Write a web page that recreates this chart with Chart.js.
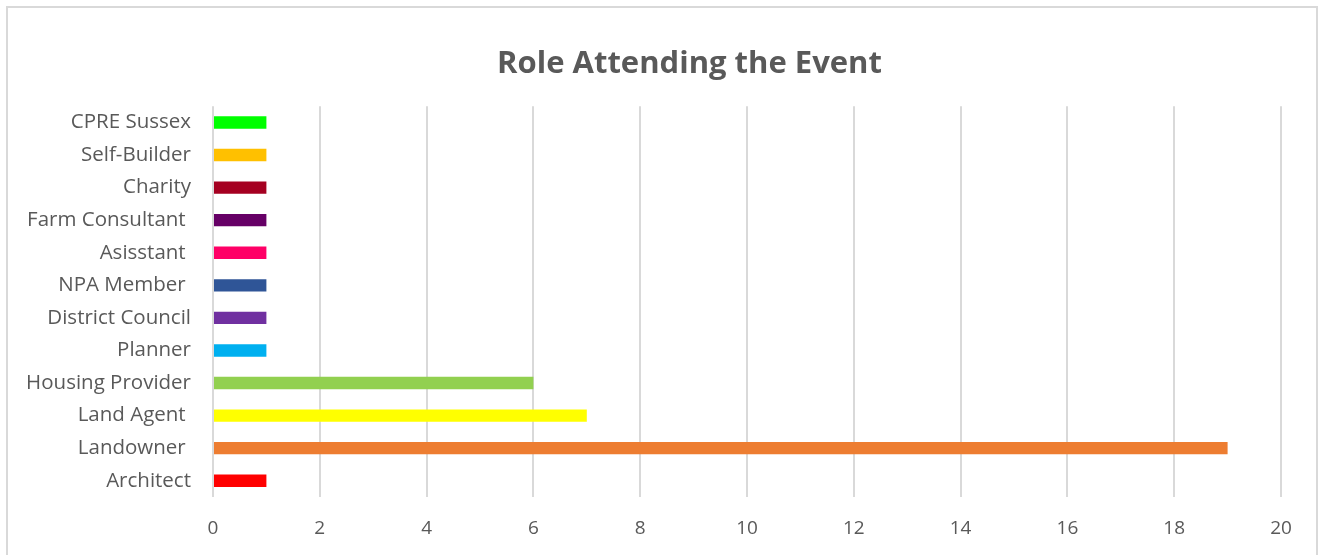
<!DOCTYPE html>
<html>
<head>
<meta charset="utf-8">
<script src="https://cdn.jsdelivr.net/npm/chart.js@4"></script>
<style>
  html, body { margin: 0; padding: 0; background: #fff; }
  #wrap { position: relative; width: 1324px; height: 555px; overflow: hidden; }
  #frame { position: absolute; left: 6px; top: 6px; width: 1312px; height: 560px; border: 2px solid #d9d9d9; box-sizing: border-box; }
  canvas { position: absolute; left: 0; top: 0; }
</style>
</head>
<body>
<div id="wrap">
  <div id="frame"></div>
  <canvas id="roleChart" width="1324" height="555"></canvas>
</div>
<script>
// roles from top to bottom as shown in the chart
const roles = ['CPRE Sussex', 'Self-Builder', 'Charity', 'Farm Consultant ', 'Asisstant ', 'NPA Member ',
    'District Council', 'Planner', 'Housing Provider', 'Land Agent ', 'Landowner ', 'Architect'];
const counts = [1, 1, 1, 1, 1, 1, 1, 1, 6, 7, 19, 1];
const barColors = ['#00ff00', '#ffc000', '#a50021', '#660066', '#ff0066', '#2f5597',
    '#7030a0', '#00b0f0', '#92d050', '#ffff00', '#ed7d31', '#ff0000'];
const xTicks = [0, 2, 4, 6, 8, 10, 12, 14, 16, 18, 20];

const textGrey = '#595959';

// the title sits a bit right of the canvas centre in the original
const shiftTitle = {
    id: 'shiftTitle',
    afterLayout: (chart) => {
        if (chart.titleBlock) chart.titleBlock.left += 98;
    },
};

document.addEventListener('DOMContentLoaded', () => {
    const ctx = document.getElementById('roleChart').getContext('2d');
    new Chart(ctx, {
        type: 'bar',
        data: {
            labels: roles,
            datasets: [{
                label: 'Role',
                data: counts,
                backgroundColor: barColors,
                borderWidth: 0,
                categoryPercentage: 1,
                barPercentage: 0.38,
            }]
        },
        options: {
            indexAxis: 'y',
            responsive: false,
            animation: false,
            layout: { padding: { top: 0, left: 0, right: 43, bottom: 0 } },
            plugins: {
                legend: { display: false },
                tooltip: { enabled: false },
                title: {
                    display: true,
                    text: 'Role Attending the Event',
                    color: textGrey,
                    font: { family: 'Open Sans', size: 31, weight: 'bold' },
                    padding: { top: 46, bottom: 23 },
                },
            },
            scales: {
                x: {
                    min: 0,
                    max: 20,
                    afterBuildTicks: (scale) => { scale.ticks = xTicks.map(v => ({ value: v })); },
                    afterFit: (scale) => { scale.height = 58; },
                    grid: { color: '#d9d9d9', lineWidth: 2, drawTicks: false },
                    border: { display: false },
                    ticks: { color: textGrey, padding: 20, font: { family: 'Open Sans', size: 19 } },
                },
                y: {
                    afterFit: (scale) => { scale.width = 213; },
                    grid: { display: false, drawTicks: false },
                    border: { display: false },
                    ticks: { color: textGrey, padding: 22, font: { family: 'Open Sans', size: 20.5 } },
                },
            },
        },
        plugins: [shiftTitle],
    });
});
</script>
</body>
</html>
